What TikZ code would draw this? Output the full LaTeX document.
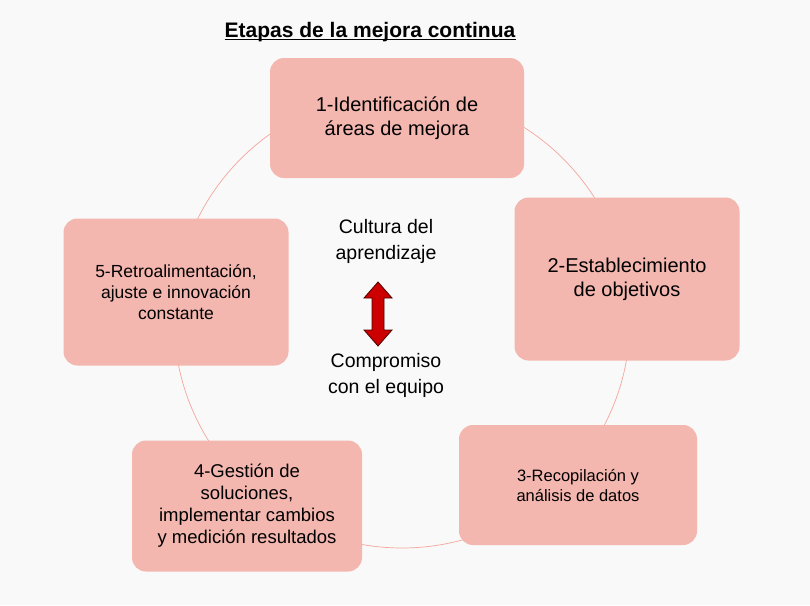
\documentclass[tikz,border=0pt]{standalone}
\usepackage{fontspec}
\setmainfont{Liberation Sans}
\begin{document}
\begin{tikzpicture}[x=1pt,y=-1pt,
 box/.style={fill=boxc,rounded corners=14pt,align=center,inner sep=0pt},
 lab/.style={align=center}]
\definecolor{boxc}{HTML}{F4B7AF}
\definecolor{ringc}{HTML}{F08070}
\fill[gray!5] (0,0) rectangle (810,605);
\useasboundingbox (0,0) rectangle (810,605);
\draw[ringc!70,line width=0.7pt] (402,320) circle (228);
\node[inner sep=0pt,font=\fontsize{21}{24}\selectfont\bfseries] (title) at (370,32) {Etapas de la mejora continua};
\draw[line width=1pt] ([yshift=-2.5pt]title.base west) -- ([yshift=-2.5pt]title.base east);
\node[box,minimum width=254,minimum height=120,font=\fontsize{20}{24}\selectfont] (b1) at (397,118) {1-Identificación de\\áreas de mejora};
\node[box,minimum width=225,minimum height=163,font=\fontsize{20}{24}\selectfont] (b2) at (627,279) {2-Establecimiento\\de objetivos};
\node[box,minimum width=238,minimum height=120,font=\fontsize{16.5}{20}\selectfont] (b3) at (578,485) {3-Recopilación y\\análisis de datos};
\node[box,minimum width=230,minimum height=131,font=\fontsize{18.5}{22}\selectfont] (b4) at (247,506) {4-Gestión de\\soluciones,\\implementar cambios\\y medición resultados};
\node[box,minimum width=225,minimum height=147,font=\fontsize{17.5}{21}\selectfont] (b5) at (176,292) {5-Retroalimentación,\\ajuste e innovación\\constante};
\node[lab,font=\fontsize{19.5}{26}\selectfont] (t1) at (386,241) {Cultura del\\aprendizaje};
\node[lab,font=\fontsize{19.5}{26}\selectfont] (t2) at (386,375) {Compromiso\\con el equipo};
\draw[fill=red!80!black,draw=red!30!black,line width=0.8pt,line join=miter]
 (378,282) -- (392,298) -- (384,298) -- (384,330) -- (392,330) -- (378,346)
 -- (364,330) -- (372,330) -- (372,298) -- (364,298) -- cycle;
\end{tikzpicture}
\end{document}
